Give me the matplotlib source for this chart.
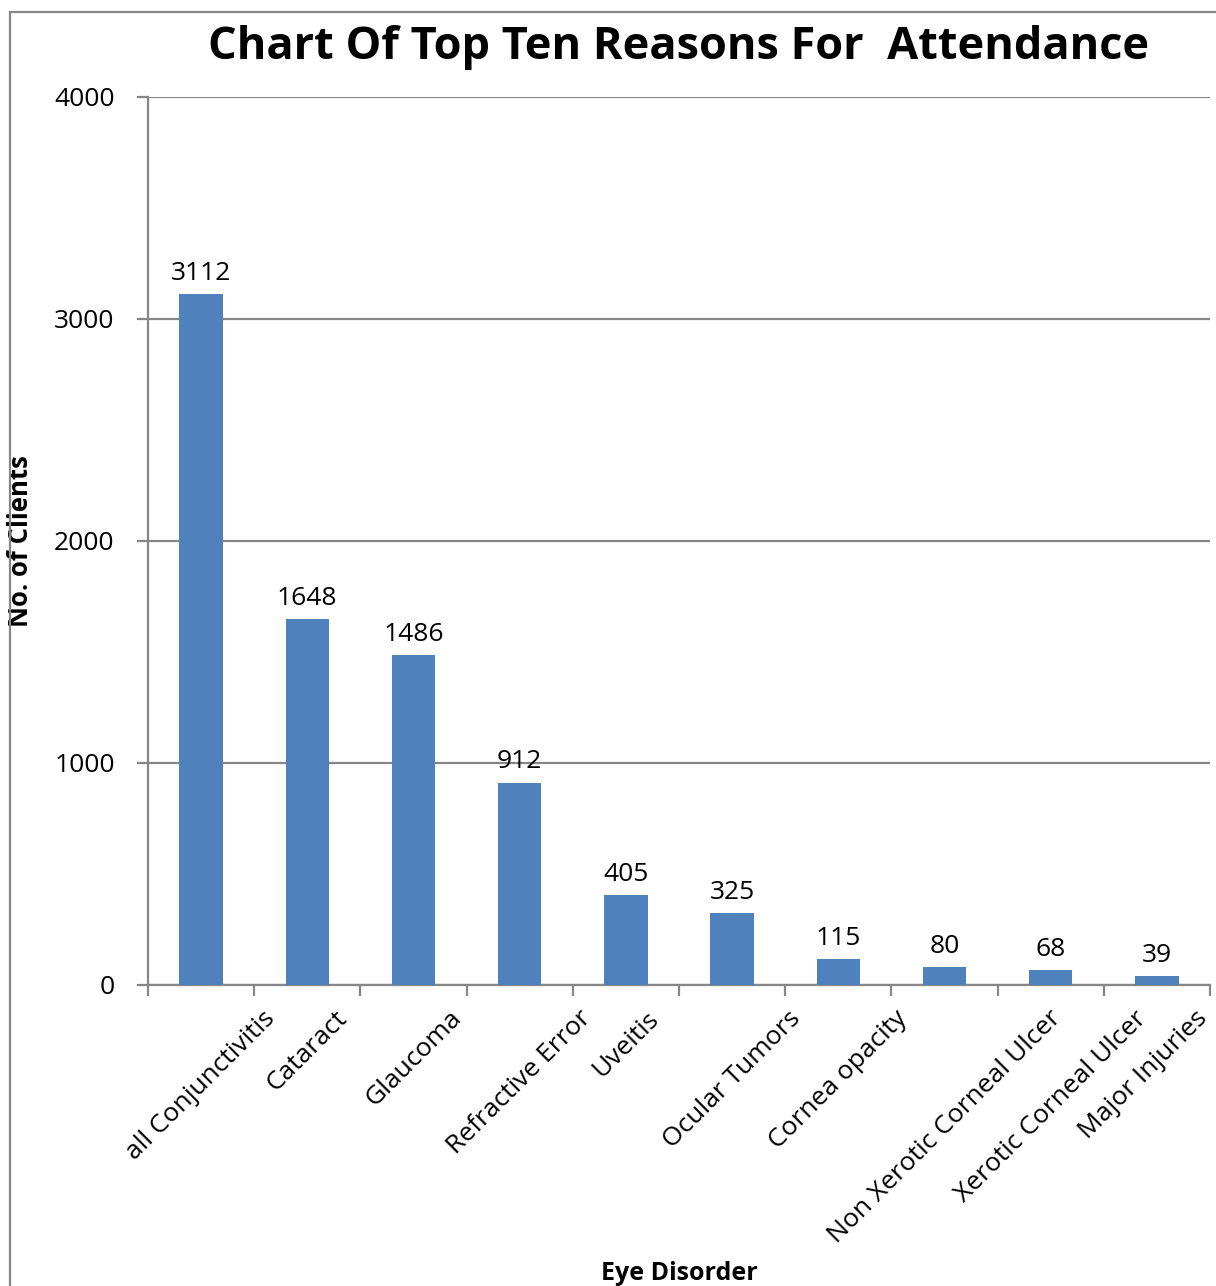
import numpy as np
import matplotlib.pyplot as plt
import matplotlib.transforms as mtransforms
from matplotlib.patches import Rectangle

disorders = ['all Conjunctivitis', 'Cataract', 'Glaucoma', 'Refractive Error', 'Uveitis',
             'Ocular Tumors', 'Cornea opacity', 'Non Xerotic Corneal Ulcer',
             'Xerotic Corneal Ulcer', 'Major Injuries']
clients = [3112, 1648, 1486, 912, 405, 325, 115, 80, 68, 39]

plt.rcParams['font.family'] = ['Open Sans', 'DejaVu Sans']
grey = '#868686'
bar_color = '#4F81BD'

fig = plt.figure(figsize=(12.16, 12.86), dpi=100)
ax = fig.add_axes([148 / 1216, (1286 - 985) / 1286, (1210 - 148) / 1216, (985 - 97) / 1286])

# outer chart frame (only top and left edges visible)
fig.add_artist(Rectangle((10 / 1216, -0.1), 1.2, 1 - 12 / 1286 + 0.1, transform=fig.transFigure,
                         fill=False, edgecolor=grey, linewidth=1.6))

x = np.arange(len(disorders))
bars = ax.bar(x, clients, width=0.41, color=bar_color, zorder=3)

ax.set_xlim(-0.5, len(disorders) - 0.5)
ax.set_ylim(0, 4000)
ax.set_yticks([0, 1000, 2000, 3000, 4000])
ax.grid(axis='y', color=grey, linewidth=1.6, zorder=0)
ax.tick_params(axis='y', length=8, width=1.6, color=grey, labelsize=19, pad=16)

ax.set_xticks(x)
ax.set_xticks(np.arange(-0.5, len(disorders) + 0.5, 1), minor=True)
ax.tick_params(axis='x', which='major', length=0, labelsize=19, pad=15)
ax.tick_params(axis='x', which='minor', length=8, width=1.6, color=grey)
ax.set_xticklabels(disorders, rotation=45, ha='center', va='top')
# last label sits at the right edge; nudge it so it stays inside the picture
last = ax.get_xticklabels()[-1]
last.set_transform(last.get_transform() + mtransforms.ScaledTranslation(-0.14, 0, fig.dpi_scale_trans))

for s in ['top', 'right']:
    ax.spines[s].set_visible(False)
for s in ['left', 'bottom']:
    ax.spines[s].set_color(grey)
    ax.spines[s].set_linewidth(1.6)

for xi, v in zip(x, clients):
    ax.annotate(str(v), (xi, v), xytext=(0, 6), textcoords='offset points',
                ha='center', va='bottom', fontsize=19)

ax.set_title('Chart Of Top Ten Reasons For  Attendance', fontsize=32.5, fontweight='bold', pad=27)
ax.set_ylabel('No. of Clients', fontsize=18.5, fontweight='bold')
ax.yaxis.set_label_coords(-114 / 1062, 0.5)
fig.text((148 + 1210) / 2 / 1216, 1 - 1274 / 1286, 'Eye Disorder', ha='center', va='center',
         fontsize=18, fontweight='bold')

fig.savefig('out.png', dpi=100, facecolor='white')
